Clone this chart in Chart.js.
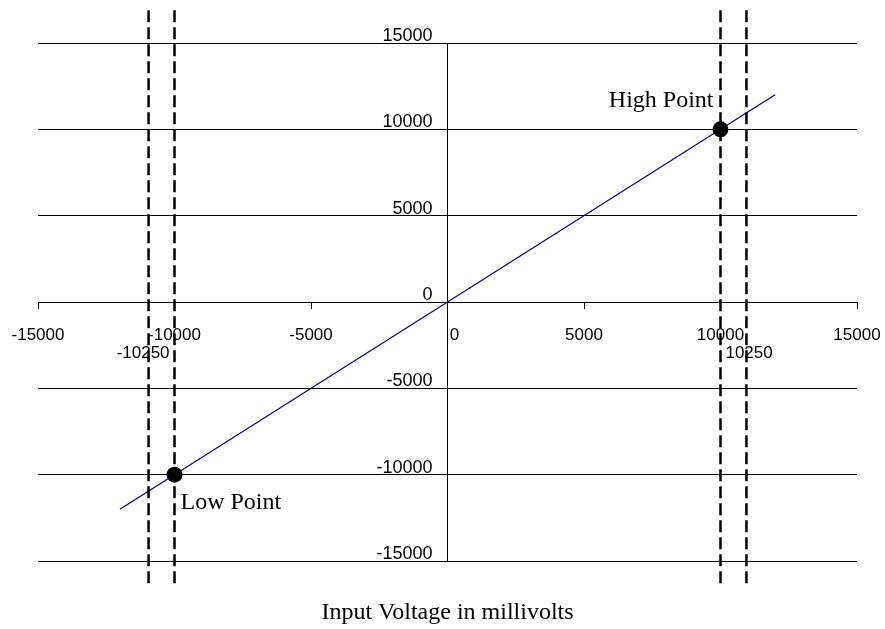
<!DOCTYPE html>
<html>
<head>
<meta charset="utf-8">
<script src="https://cdn.jsdelivr.net/npm/chart.js@4.4.1/dist/chart.umd.min.js"></script>
<style>
html,body{margin:0;padding:0;background:#fff;}
#wrap{width:885px;height:629px;}
</style>
</head>
<body>
<div id="wrap"><canvas id="c" width="885" height="629"></canvas></div>
<script>
// ---- data ----
const xTicks = [-15000, -10000, -5000, 0, 5000, 10000, 15000];
const yTicks = [-15000, -10000, -5000, 0, 5000, 10000, 15000];
const lineX = [-12000, 12000];
const lineY = [-12000, 12000];
const pointX = [10000, -10000];
const pointY = [10000, -10000];
const pointLabels = ['High Point', 'Low Point'];
const limitX = [-10950, -10000, 10000, 10950];
const limitLabels = ['-10250', '', '', '10250'];
const limitTop = 16900;
const limitBottom = -16550;
const axisTitle = 'Input Voltage in millivolts';

const SANS = '"Liberation Sans", Arial, sans-serif';
const SERIF = '"Liberation Serif", "Times New Roman", serif';

const datasets = [];
limitX.forEach(v => {
  datasets.push({
    data: [{x: v, y: limitTop}, {x: v, y: limitBottom}],
    showLine: true, borderColor: '#000', borderWidth: 2.5, borderDash: [12, 5],
    pointRadius: 0, clip: false, order: 3
  });
});
datasets.push({
  data: lineX.map((x, i) => ({x, y: lineY[i]})),
  showLine: true, borderColor: '#000080', borderWidth: 1.2, pointRadius: 0, order: 2
});
datasets.push({
  data: pointX.map((x, i) => ({x, y: pointY[i]})),
  showLine: false, pointRadius: 8, pointBackgroundColor: '#000', pointBorderWidth: 0, order: 1
});

const annot = {
  id: 'annot',
  afterDatasetsDraw(chart) {
    const ctx = chart.ctx, xs = chart.scales.x, ys = chart.scales.y;
    ctx.save();
    ctx.fillStyle = '#000';
    ctx.font = '24px ' + SERIF;
    ctx.textBaseline = 'alphabetic';
    ctx.textAlign = 'right';
    ctx.fillText(pointLabels[0], xs.getPixelForValue(pointX[0]) - 7, ys.getPixelForValue(pointY[0]) - 22);
    ctx.textAlign = 'left';
    ctx.fillText(pointLabels[1], xs.getPixelForValue(pointX[1]) + 6, ys.getPixelForValue(pointY[1]) + 34);
    ctx.font = '17px ' + SANS;
    ctx.textBaseline = 'middle';
    const y0 = ys.getPixelForValue(0) + 51;
    limitX.forEach((v, i) => {
      if (!limitLabels[i]) return;
      const px = xs.getPixelForValue(v);
      if (v < 0) { ctx.textAlign = 'right'; ctx.fillText(limitLabels[i], px + 21, y0); }
      else { ctx.textAlign = 'left'; ctx.fillText(limitLabels[i], px - 21, y0); }
    });
    ctx.restore();
  }
};

new Chart(document.getElementById('c'), {
  type: 'scatter',
  data: {datasets},
  options: {
    responsive: false,
    devicePixelRatio: 1,
    animation: false,
    layout: {padding: {left: 38, right: 28, top: 43, bottom: 0}},
    plugins: {
      legend: {display: false},
      tooltip: {enabled: false},
      title: {
        display: true, position: 'bottom', fullSize: false, text: axisTitle, color: '#000',
        font: {family: SERIF, size: 24, weight: 'normal'},
        padding: {top: 37.6, bottom: 1.6}
      }
    },
    scales: {
      x: {
        type: 'linear', min: -15000, max: 15000,
        position: {y: 0},
        afterBuildTicks: s => { s.ticks = xTicks.map(v => ({value: v})); },
        afterFit: s => { s.height = 0; },
        grid: {drawOnChartArea: false, drawTicks: true, tickLength: 6, color: '#000', lineWidth: 1},
        border: {display: true, color: '#000', width: 1},
        ticks: {color: '#000', font: {family: SANS, size: 17, lineHeight: 2.9}, padding: 2.4,
          maxRotation: 0, autoSkip: false,
          callback: v => (v === 0 ? '   0' : String(v))}
      },
      y: {
        type: 'linear', min: -15000, max: 15000,
        position: {x: 0},
        afterBuildTicks: s => { s.ticks = yTicks.map(v => ({value: v})); },
        afterFit: s => { s.width = 0; },
        grid: {drawOnChartArea: true, drawTicks: true, tickLength: 6, color: '#000', lineWidth: 1},
        border: {display: true, color: '#000', width: 1},
        ticks: {color: '#000', font: {family: SANS, size: 18}, padding: 9, labelOffset: -7, autoSkip: false,
          callback: v => String(v) + '   '}
      }
    }
  },
  plugins: [annot]
});
</script>
</body>
</html>
